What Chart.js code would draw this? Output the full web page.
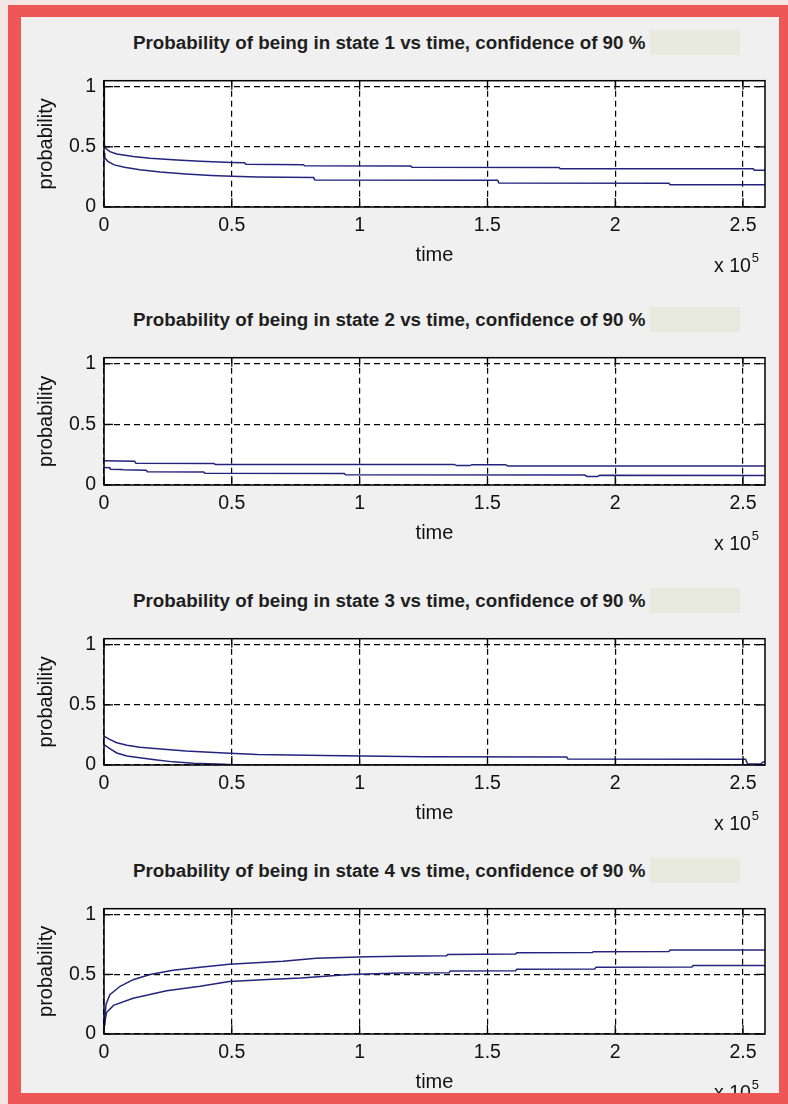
<!DOCTYPE html>
<html>
<head>
<meta charset="utf-8">
<script src="https://cdn.jsdelivr.net/npm/chart.js@4.4.1/dist/chart.umd.min.js"></script>
<style>
  html, body { margin: 0; padding: 0; }
  body {
    width: 788px; height: 1104px; position: relative; overflow: hidden;
    background: #f5e6e6;
    font-family: 'Liberation Sans', Arial, sans-serif;
  }
  .panel { position: absolute; left: 21px; top: 17px; width: 758px; height: 1076px; background: #f0f0f0; }
  .frame { position: absolute; background: #ef5656; z-index: 10; }
  canvas.sub { position: absolute; left: 22px; }
  .title {
    position: absolute; left: 133px; height: 25px; line-height: 25px;
    font-weight: bold; font-size: 18.8px; color: #1e1e1e; white-space: nowrap;
  }
  .patch { position: absolute; left: 650px; width: 90px; height: 25px; background: #e7eadc; }
  .exp { position: absolute; left: 714px; font-size: 19.5px; line-height: 24px; color: #111; white-space: nowrap; }
  .exp .sup { font-size: 13px; position: relative; top: -10px; margin-left: 1px; }
</style>
</head>
<body>
<div class="panel"></div>
<div id="plots"></div>
<div class="frame" style="left:8px;top:5px;width:780px;height:12px"></div>
<div class="frame" style="left:8px;top:5px;width:13px;height:1099px"></div>
<div class="frame" style="left:779px;top:5px;width:9px;height:1099px"></div>
<div class="frame" style="left:8px;top:1093px;width:780px;height:11px"></div>

<script>
// ---------------------------------------------
// Data - time in raw units, probability 0..1
// ---------------------------------------------
const TIME_MAX = 258600;
const timeTicks = [0, 50000, 100000, 150000, 200000, 250000];
const probTicks = [0, 0.5, 1];

const titles = [
    'Probability of being in state 1 vs time, confidence of 90 %',
    'Probability of being in state 2 vs time, confidence of 90 %',
    'Probability of being in state 3 vs time, confidence of 90 %',
    'Probability of being in state 4 vs time, confidence of 90 %'
];

// [time, probability] pairs (upper / lower bound)
const state1Upper = [[0, 1.0], [150, 0.52], [500, 0.49], [2300, 0.46], [5000, 0.44], [11400, 0.42],
    [18000, 0.405], [28500, 0.39], [37600, 0.38], [50000, 0.37], [55000, 0.368], [55500, 0.355],
    [78000, 0.352], [78500, 0.343], [120000, 0.34], [120500, 0.331], [178000, 0.329], [178500, 0.318],
    [254000, 0.317], [254500, 0.306], [258600, 0.306]];
const state1Lower = [[0, 0.45], [300, 0.41], [1500, 0.38], [4000, 0.35], [8000, 0.33], [14000, 0.31],
    [22000, 0.29], [32000, 0.275], [42000, 0.262], [50000, 0.255], [60000, 0.25], [82000, 0.245],
    [82500, 0.225], [154000, 0.222], [154500, 0.2], [221000, 0.198], [221500, 0.185], [258600, 0.185]];

const state2Upper = [[0, 0.2], [12000, 0.195], [12500, 0.18], [43000, 0.178], [43500, 0.17],
    [137000, 0.17], [138000, 0.16], [143000, 0.16], [144000, 0.168], [157000, 0.168], [158000, 0.157],
    [258600, 0.157]];
const state2Lower = [[0, 0.145], [2300, 0.142], [2500, 0.13], [7000, 0.128], [7500, 0.125],
    [16500, 0.122], [17000, 0.11], [39000, 0.108], [39500, 0.097], [94000, 0.095], [94500, 0.085],
    [188000, 0.082], [189000, 0.07], [193000, 0.07], [194000, 0.08], [258600, 0.078]];

const state3Upper = [[0, 0.24], [2000, 0.215], [5000, 0.185], [9000, 0.165], [14000, 0.148],
    [21000, 0.135], [32000, 0.117], [47000, 0.1], [60000, 0.088], [86000, 0.078], [125000, 0.068],
    [181000, 0.066], [181500, 0.05], [251000, 0.048], [251800, 0.008], [257000, 0.008],
    [257800, 0.025], [258600, 0.025]];
const state3Lower = [[0, 0.17], [2000, 0.14], [5000, 0.1], [9000, 0.075], [14000, 0.06],
    [20000, 0.043], [27000, 0.026], [35000, 0.015], [47000, 0.007], [52000, 0.0], [258600, 0.0]];

const state4Upper = [[0, 0.08], [300, 0.13], [800, 0.25], [2300, 0.33], [6300, 0.4], [11400, 0.455],
    [18000, 0.498], [27000, 0.535], [37600, 0.56], [49000, 0.585], [70000, 0.61], [83000, 0.635],
    [103000, 0.647], [116000, 0.652], [134000, 0.655], [134500, 0.667], [161000, 0.67],
    [161500, 0.68], [191000, 0.682], [191500, 0.69], [221000, 0.692], [221500, 0.704], [258600, 0.704]];
const state4Lower = [[0, 0.05], [500, 0.12], [1000, 0.18], [3700, 0.24], [11400, 0.3], [24500, 0.363],
    [37600, 0.4], [49000, 0.44], [64000, 0.456], [77000, 0.469], [96000, 0.498], [116000, 0.511],
    [135000, 0.513], [135500, 0.528], [161000, 0.53], [161500, 0.543], [192000, 0.545],
    [192500, 0.56], [230000, 0.562], [230500, 0.573], [258600, 0.573]];

const bounds = [
    [state1Upper, state1Lower],
    [state2Upper, state2Lower],
    [state3Upper, state3Lower],
    [state4Upper, state4Lower]
];

// layout of the 4 axes boxes (page pixels)
const boxTop = [65, 342, 623, 893];
const boxBottom = [207, 485, 765, 1034];
const LINE_COLOR = '#24247e';

Chart.defaults.font.family = "'Liberation Sans', Arial, sans-serif";
Chart.defaults.color = '#111';

// white plot area
const plotBackground = {
    id: 'plotBackground',
    beforeDraw(chart) {
        const { ctx, chartArea: a } = chart;
        ctx.save();
        ctx.fillStyle = '#fff';
        ctx.fillRect(a.left, a.top, a.right - a.left, a.bottom - a.top);
        ctx.restore();
    }
};

// matlab style box with inward ticks on all sides
const matlabBox = {
    id: 'matlabBox',
    afterDatasetsDraw(chart) {
        const { ctx, chartArea: a, scales: { x, y } } = chart;
        const len = 9;
        ctx.save();
        ctx.strokeStyle = '#000';
        ctx.lineWidth = 1.2;
        ctx.beginPath();
        timeTicks.forEach(v => {
            const px = x.getPixelForValue(v);
            ctx.moveTo(px, a.bottom); ctx.lineTo(px, a.bottom - len);
            ctx.moveTo(px, a.top); ctx.lineTo(px, a.top + len);
        });
        probTicks.forEach(v => {
            const py = y.getPixelForValue(v);
            ctx.moveTo(a.left, py); ctx.lineTo(a.left + len, py);
            ctx.moveTo(a.right, py); ctx.lineTo(a.right - len, py);
        });
        ctx.stroke();
        ctx.lineWidth = 1.5;
        ctx.strokeRect(a.left, a.top, a.right - a.left, a.bottom - a.top);
        ctx.restore();
    }
};

function toPoints(pairs) {
    return pairs.map(([t, p]) => ({ x: t, y: p }));
}

function buildSubplot(i) {
    const host = document.getElementById('plots');
    const padTop = 4, xAxisH = 62;
    const h = boxBottom[i] - boxTop[i] + padTop + xAxisH;

    const title = document.createElement('div');
    title.className = 'title';
    title.style.top = (boxTop[i] - 35) + 'px';
    title.textContent = titles[i];
    const patch = document.createElement('div');
    patch.className = 'patch';
    patch.style.top = (boxTop[i] - 35) + 'px';
    host.appendChild(patch);
    host.appendChild(title);

    const canvas = document.createElement('canvas');
    canvas.className = 'sub';
    canvas.width = 756;
    canvas.height = h;
    canvas.style.top = (boxTop[i] - padTop) + 'px';
    canvas.style.width = '756px';
    canvas.style.height = h + 'px';
    host.appendChild(canvas);

    const exp = document.createElement('div');
    exp.className = 'exp';
    exp.style.top = (boxBottom[i] + 46) + 'px';
    exp.innerHTML = 'x 10<span class="sup">5</span>';
    host.appendChild(exp);

    const [upper, lower] = bounds[i];
    new Chart(canvas.getContext('2d'), {
        type: 'line',
        data: {
            datasets: [upper, lower].map(d => ({
                data: toPoints(d),
                borderColor: LINE_COLOR,
                borderWidth: 1.5,
                pointRadius: 0,
                tension: 0,
                fill: false
            }))
        },
        options: {
            responsive: false,
            animation: false,
            layout: { padding: { top: padTop, right: 13, left: 0, bottom: 0 } },
            plugins: { legend: { display: false }, tooltip: { enabled: false } },
            scales: {
                x: {
                    type: 'linear',
                    min: 0,
                    max: TIME_MAX,
                    afterBuildTicks: s => { s.ticks = timeTicks.map(v => ({ value: v })); },
                    afterFit: s => { s.height = xAxisH; },
                    ticks: {
                        autoSkip: false, maxRotation: 0, padding: 7,
                        font: { size: 19.5 }, color: '#111',
                        callback: v => String(v / 1e5)
                    },
                    grid: { color: '#000', lineWidth: 1.2, drawTicks: false },
                    border: { display: false, dash: [6, 4] },
                    title: { display: true, text: 'time', font: { size: 20 }, color: '#111', padding: { top: 0, bottom: 2 } }
                },
                y: {
                    min: 0,
                    max: 1.05,
                    afterBuildTicks: s => { s.ticks = probTicks.map(v => ({ value: v })); },
                    afterFit: s => { s.width = 82; },
                    ticks: {
                        autoSkip: false, padding: 8,
                        font: { size: 19.5 }, color: '#111',
                        callback: v => String(v)
                    },
                    grid: { color: '#000', lineWidth: 1.2, drawTicks: false },
                    border: { display: false, dash: [6, 4] },
                    title: { display: true, text: 'probability', font: { size: 20 }, color: '#111', padding: { top: 12, bottom: 0 } }
                }
            }
        },
        plugins: [plotBackground, matlabBox]
    });
}

for (let i = 0; i < 4; i++) buildSubplot(i);
</script>
</body>
</html>
